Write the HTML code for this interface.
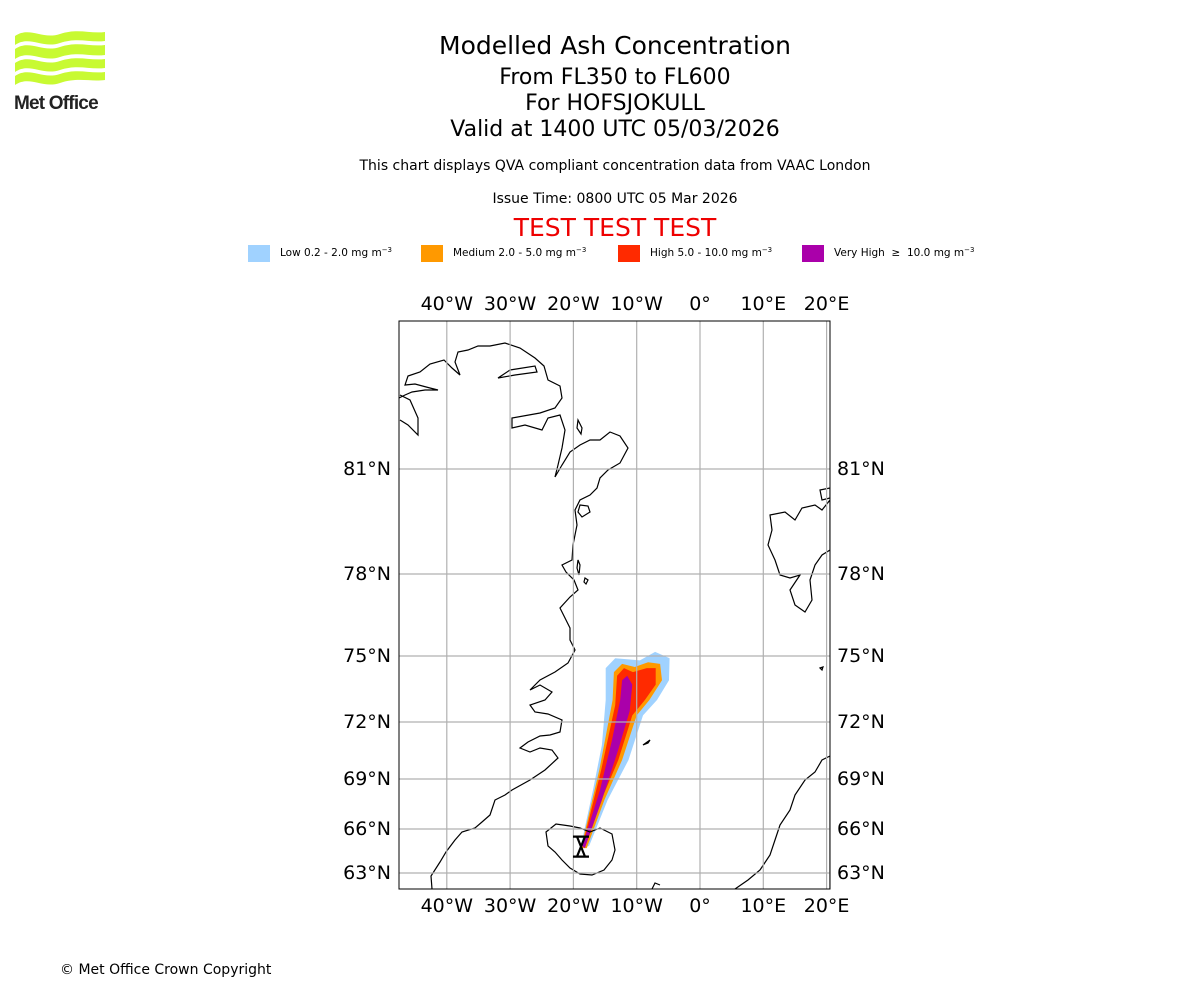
<!DOCTYPE html>
<html><head><meta charset="utf-8"><style>
body{margin:0;background:#fff;font-family:"DejaVu Sans","Liberation Sans",sans-serif;}
#wrap{position:relative;width:1200px;height:1000px;overflow:hidden;}
.t{position:absolute;left:0;width:1230px;text-align:center;color:#000;}
</style></head><body>
<div id="wrap">
<svg style="position:absolute;left:12px;top:28px" width="100" height="86" viewBox="0 0 100 86">
<path d="M3,8 C18,-2 30,12 48,6 C66,0 78,6 93,4 L93,13 C78,15 66,9 48,15 C30,21 18,7 3,17Z" fill="#c8fa32"/>
<path d="M3,21 C18,11 30,25 48,19 C66,13 78,19 93,17 L93,27 C78,29 66,23 48,29 C30,35 18,21 3,31Z" fill="#c8fa32"/>
<path d="M3,35 C18,25 30,39 48,33 C66,27 78,33 93,31 L93,40 C78,42 66,36 48,42 C30,48 18,34 3,44Z" fill="#c8fa32"/>
<path d="M3,48 C18,38 30,52 48,46 C66,40 78,46 93,44 L93,52 C78,54 66,49 48,55 C30,61 18,47 3,57Z" fill="#c8fa32"/>
<text x="2" y="81" font-family="Liberation Sans,sans-serif" font-weight="bold" font-size="19" fill="#222" letter-spacing="-0.8">Met Office</text>
</svg>
<div class="t" style="top:31px;font-size:25px">Modelled Ash Concentration</div>
<div class="t" style="top:65px;font-size:22px">From FL350 to FL600</div>
<div class="t" style="top:91px;font-size:22px">For HOFSJOKULL</div>
<div class="t" style="top:117px;font-size:22px">Valid at 1400 UTC 05/03/2026</div>
<div class="t" style="top:158px;font-size:14px">This chart displays QVA compliant concentration data from VAAC London</div>
<div class="t" style="top:191px;font-size:14px">Issue Time: 0800 UTC 05 Mar 2026</div>
<div class="t" style="top:213px;font-size:25px;color:#e00">TEST TEST TEST</div>
<svg id="chart" style="position:absolute;left:0;top:0" width="1200" height="1000"></svg>
<div style="position:absolute;left:60px;top:962px;font-size:14px">© Met Office Crown Copyright</div>
</div>
<script>
const lonTicks=[-40,-30,-20,-10,0,10,20];
const lonLabels=["40°W","30°W","20°W","10°W","0°","10°E","20°E"];
const latTicks=[63,66,69,72,75,78,81];
const latLabels=["63°N","66°N","69°N","72°N","75°N","78°N","81°N"];
const legendNames=["Low 0.2 - 2.0 mg m","Medium 2.0 - 5.0 mg m","High 5.0 - 10.0 mg m","Very High  \u2265  10.0 mg m"];
const legendColors=["#a0d2ff","#ff9900","#ff2a00","#aa00aa"];
const plumeLow=[[-18.96,64.57],[-16.9,68.34],[-15.5,70.79],[-14.9,73.0],[-14.9,74.45],[-13.4,74.9],[-9.5,74.8],[-7.1,75.15],[-4.8,74.9],[-4.9,73.9],[-6.8,73.0],[-9.0,72.3],[-11.3,70.0],[-14.6,67.74],[-17.5,64.86]];
const plumeMedium=[[-18.8,64.7],[-15.9,69.5],[-13.8,73.0],[-13.6,74.27],[-12.3,74.64],[-10.3,74.5],[-8.2,74.72],[-6.3,74.64],[-6.0,73.9],[-8.0,73.0],[-10.0,72.3],[-12.3,70.0],[-15.1,67.74],[-17.9,64.7]];
const plumeHigh=[[-18.6,64.84],[-15.6,69.5],[-13.4,72.77],[-13.1,74.1],[-12.0,74.45],[-10.6,74.27],[-8.4,74.45],[-7.0,74.45],[-7.0,73.7],[-8.7,73.0],[-10.7,72.3],[-12.9,70.0],[-15.6,67.74],[-18.2,64.7]];
const plumeVeryHigh=[[-18.6,64.84],[-15.8,68.34],[-13.9,71.05],[-12.6,73.0],[-12.3,73.9],[-11.5,74.1],[-10.7,73.7],[-11.1,72.5],[-12.95,70.5],[-15.5,67.74],[-18.2,64.7]];
const volcano=[-18.8,64.8];

const NS="http://www.w3.org/2000/svg";
const svg=document.getElementById('chart');
const L=399,R=830,T=321,B=889;
const latPx=[873,829,779,722,656,574,469];
function xS(lon){return 700+lon*6.33;}
function yS(lat){
  for(let i=0;i<latTicks.length-1;i++){
    if(lat<=latTicks[i+1]||i==latTicks.length-2){
      const t=(lat-latTicks[i])/(latTicks[i+1]-latTicks[i]);
      return latPx[i]+t*(latPx[i+1]-latPx[i]);
    }
  }
}
function mk(tag,attrs,parent){const e=document.createElementNS(NS,tag);for(const k in attrs)e.setAttribute(k,attrs[k]);(parent||svg).appendChild(e);return e;}

const clip=mk('clipPath',{id:'mapclip'});mk('rect',{x:L,y:T,width:R-L,height:B-T},clip);
const g=mk('g',{'clip-path':'url(#mapclip)'});



[[plumeLow,0],[plumeMedium,1],[plumeHigh,2],[plumeVeryHigh,3]].forEach(([pts,i])=>{
  const p=mk('polygon',{points:pts.map(q=>xS(q[0]).toFixed(1)+','+yS(q[1]).toFixed(1)).join(' '),fill:legendColors[i]},g);
  
  
});

const coast=[
"M432,889 L431,876 L440,862 L446,852 L455,840 L462,832 L475,828 L482,822 L490,815 L495,800 L505,795 L512,790 L530,780 L545,770 L558,758 L552,750 L540,748 L530,752 L520,748 L528,742 L540,736 L550,735 L560,732 L562,720 L548,714 L535,712 L530,705 L545,700 L552,692 L540,685 L530,690 L540,680 L555,672 L568,663 L575,650 L570,640 L570,628 L565,618 L560,608 L570,597 L578,590 L574,580 L566,572 L562,565 L572,560 L573,545 L577,525 L575,510 L580,500 L590,495 L597,488 L600,478 L608,470 L620,463 L628,448 L620,436 L610,432 L600,440 L590,440 L580,445 L570,452 L562,465 L555,477 L558,465 L562,448 L565,430 L560,415 L548,418 L542,430 L525,425 L512,428 L512,418 L540,413 L555,408 L562,398 L560,386 L548,380 L544,366 L535,358 L520,348 L505,343 L490,346 L478,346 L468,350 L458,352 L455,362 L460,375 L452,368 L444,360 L430,364 L420,372 L408,376 L405,385 L415,384 L430,388 L438,390 L425,390 L412,392 L405,395 L399,398",
"M400,395 L410,400 L418,418 L418,435 L408,425 L400,420",
"M498,378 L510,370 L535,366 L537,372 L515,375 L498,378Z",
"M578,420 L582,428 L581,434 L577,428Z",
"M580,505 L588,506 L590,512 L582,517 L578,512Z",
"M578,560 L580,565 L579,575 L577,568Z",
"M585,578 L588,580 L586,584 L584,582Z",
"M546,832 L556,824 L570,826 L580,828 L590,832 L600,828 L612,834 L615,850 L612,860 L604,870 L592,875 L580,874 L570,868 L562,860 L555,852 L548,846Z",
"M770,515 L785,512 L795,520 L802,508 L815,505 L822,510 L830,500 L830,550 L822,555 L815,565 L810,580 L812,600 L805,612 L795,605 L790,590 L800,575 L790,578 L780,575 L775,560 L768,545 L772,530Z",
"M820,490 L830,488 L830,498 L822,500Z",
"M735,889 L748,880 L760,870 L770,855 L775,840 L780,825 L790,810 L795,795 L805,780 L815,772 L822,760 L830,756 L830,889",
"M643,745 L650,740 L648,743Z",
"M820,668 L823,667 L822,670Z",
"M652,889 L655,883 L660,885"
];
coast.forEach((d,i)=>{const p=mk('path',{d:d,fill:'none',stroke:'#000','stroke-width':1.2},g);
  
  });

lonTicks.forEach((lon,i)=>{const l=mk('line',{x1:xS(lon),x2:xS(lon),y1:T,y2:B,stroke:'#b0b0b0','stroke-width':1.2},g);
  
  
  [T-11,B+23].forEach(y=>{const t=mk('text',{x:xS(lon),y:y,'text-anchor':'middle','font-size':19,'font-family':'DejaVu Sans,sans-serif'});t.textContent=lonLabels[i];
    
    });
});
latTicks.forEach((lat,i)=>{const l=mk('line',{x1:L,x2:R,y1:yS(lat),y2:yS(lat),stroke:'#b0b0b0','stroke-width':1.2},g);
  
  
  [[L-8,'end'],[R+7,'start']].forEach(([x,a])=>{const t=mk('text',{x:x,y:yS(lat)+6,'text-anchor':a,'font-size':19,'font-family':'DejaVu Sans,sans-serif'});t.textContent=latLabels[i];
    
    });
});

const vx=xS(volcano[0]),vy=yS(volcano[1]);
const vm=mk('path',{d:`M${vx-8},${vy-10} L${vx+8},${vy-10} M${vx-4},${vy-10} L${vx+4},${vy+10} M${vx+4},${vy-10} L${vx-4},${vy+10} M${vx-8},${vy+10} L${vx+8},${vy+10}`,stroke:'#000','stroke-width':2.2,fill:'none'},g);



const fr=mk('rect',{x:L,y:T,width:R-L,height:B-T,fill:'none',stroke:'#000','stroke-width':1});



const legX=[248,421,618,802];
legendNames.forEach((n,i)=>{
  const r=mk('rect',{x:legX[i],y:245,width:22,height:17,fill:legendColors[i]});
  
  
  const t=mk('text',{x:legX[i]+32,y:256,'font-size':10.5,'font-family':'DejaVu Sans,sans-serif'});
  t.setAttribute('style','white-space:pre');
  t.textContent=n;
  const s=mk('tspan',{dy:-4,'font-size':7},t);s.textContent='\u22123';
  
  
});
</script>
</body></html>
